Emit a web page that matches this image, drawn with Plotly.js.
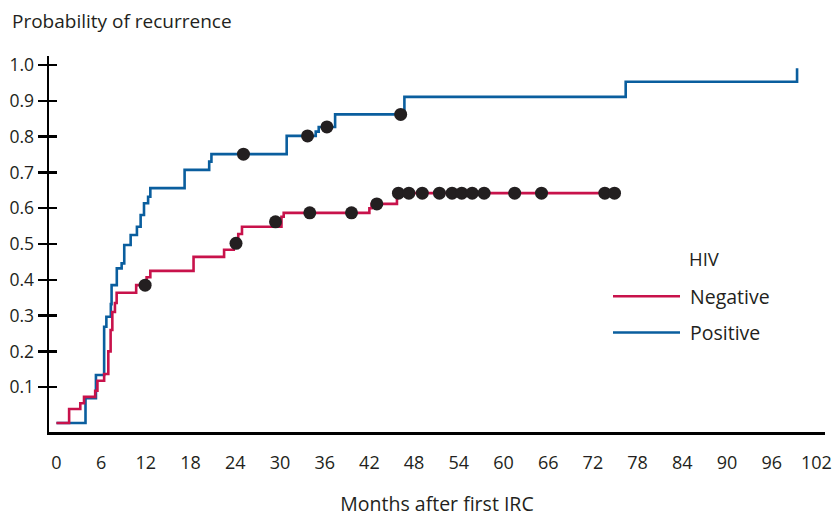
<!DOCTYPE html>
<html>
<head>
<meta charset="utf-8">
<script src="https://cdn.plot.ly/plotly-3.0.1.min.js"></script>
<style>html,body{margin:0;padding:0;background:#fff;}#chart{width:838px;height:517px;}</style>
</head>
<body>
<div id="chart"></div>
<script>
// Kaplan-Meier style cumulative recurrence (step functions)
var negMonths = [0, 1.7, 3.2, 3.7, 5.2, 5.5, 6.4, 6.96, 7.27, 7.5, 7.85, 8.08, 10.7, 12.1, 12.6, 18.4, 22.5, 23.8, 24.4, 24.9, 30.2, 30.5, 42.0, 42.3, 45.7, 74.9];
var negProb   = [0, 0.039, 0.055, 0.073, 0.090, 0.118, 0.137, 0.20, 0.26, 0.31, 0.335, 0.364, 0.385, 0.407, 0.425, 0.464, 0.484, 0.502, 0.528, 0.548, 0.576, 0.587, 0.600, 0.612, 0.642, 0.642];
var posMonths = [0, 3.9, 5.3, 6.4, 6.7, 7.3, 7.4, 8.1, 8.75, 9.1, 9.96, 10.8, 11.3, 11.75, 12.3, 12.6, 17.2, 20.5, 20.8, 30.9, 34.8, 35.2, 37.4, 46.7, 76.4, 99.4];
var posProb   = [0, 0.069, 0.134, 0.269, 0.297, 0.332, 0.385, 0.432, 0.446, 0.497, 0.525, 0.548, 0.581, 0.614, 0.632, 0.656, 0.707, 0.730, 0.751, 0.802, 0.814, 0.827, 0.862, 0.911, 0.953, 0.991];
// censored observations (dots)
var negCensMonths = [11.9, 24.1, 29.4, 34.0, 39.6, 43.0, 45.9, 47.3, 49.1, 51.4, 53.1, 54.4, 55.8, 57.4, 61.5, 65.1, 73.6, 74.9];
var negCensProb   = [0.385, 0.502, 0.562, 0.587, 0.587, 0.612, 0.642, 0.642, 0.642, 0.642, 0.642, 0.642, 0.642, 0.642, 0.642, 0.642, 0.642, 0.642];
var posCensMonths = [25.1, 33.7, 36.3, 46.2];
var posCensProb   = [0.751, 0.802, 0.827, 0.862];
var xTicks = [0, 6, 12, 18, 24, 30, 36, 42, 48, 54, 60, 66, 72, 78, 84, 90, 96, 102];
var yTicks = [0.1, 0.2, 0.3, 0.4, 0.5, 0.6, 0.7, 0.8, 0.9, 1.0];

var RED = '#c8124b', BLUE = '#0a5e9e', DOT = '#231f20', TXT = '#231f20';
var FONT = 'Open Sans, Noto Sans, sans-serif';

var traces = [
  {x: posMonths, y: posProb, mode: 'lines', line: {shape: 'hv', color: BLUE, width: 2.6}, name: '\u00a0Positive', legendrank: 2, legendgroup: 'p'},
  {x: negMonths, y: negProb, mode: 'lines', line: {shape: 'hv', color: RED, width: 2.6}, name: '\u00a0Negative', legendrank: 1, legendgroup: 'n'},
  {x: posCensMonths, y: posCensProb, mode: 'markers', marker: {color: DOT, size: 13}, showlegend: false, hoverinfo: 'skip'},
  {x: negCensMonths, y: negCensProb, mode: 'markers', marker: {color: DOT, size: 13}, showlegend: false, hoverinfo: 'skip'},
  {x: [null], y: [null], yaxis: 'y2', showlegend: false, hoverinfo: 'skip'}
];

var yr = [-0.0251, 1.0251];
var layout = {
  width: 838, height: 517,
  margin: {l: 49, r: 13, t: 56, b: 85},
  paper_bgcolor: '#fff', plot_bgcolor: '#fff',
  font: {family: FONT, size: 18, color: TXT},
  title: {text: 'Probability of recurrence', x: 12/838, xref: 'container', xanchor: 'left', y: 1 - 21/517, yref: 'container', yanchor: 'middle', font: {family: FONT, size: 19, color: TXT}},
  xaxis: {
    range: [-1.0, 103.15], tickvals: xTicks, ticktext: xTicks.map(String),
    showgrid: false, zeroline: false, showline: true, linecolor: '#000', linewidth: 2.5,
    ticks: 'outside', ticklen: 13, tickcolor: 'rgba(0,0,0,0)',
    tickfont: {family: FONT, size: 18, color: TXT},
    title: {text: 'Months after first IRC', standoff: 33, font: {family: FONT, size: 19.5, color: TXT}}
  },
  yaxis: {
    range: yr, tickvals: yTicks, tickformat: '.1f',
    showgrid: false, zeroline: false, showline: true, linecolor: '#000', linewidth: 2.5,
    ticks: 'outside', ticklen: 9, tickwidth: 2.5, tickcolor: '#000',
    tickfont: {family: FONT, size: 17.5, color: TXT}
  },
  yaxis2: {
    range: yr, tickvals: yTicks, overlaying: 'y', side: 'left', anchor: 'x',
    showgrid: false, zeroline: false, showline: false, showticklabels: false,
    ticks: 'inside', ticklen: 8, tickwidth: 2.5, tickcolor: '#000'
  },
  showlegend: true,
  legend: {x: (608-49)/776, y: (432-277)/376, xanchor: 'left', yanchor: 'top', bgcolor: 'rgba(0,0,0,0)',
           font: {family: FONT, size: 19.5, color: TXT}, itemwidth: 67, tracegroupgap: 8, traceorder: 'grouped'},
  annotations: [
    {text: 'HIV', xref: 'paper', yref: 'paper', x: (687-49)/776, y: (432-258)/376, xanchor: 'left', yanchor: 'middle', showarrow: false, font: {family: FONT, size: 18.5, color: TXT}}
  ]
};
Plotly.newPlot('chart', traces, layout, {displayModeBar: false, staticPlot: true});
</script>
</body>
</html>
